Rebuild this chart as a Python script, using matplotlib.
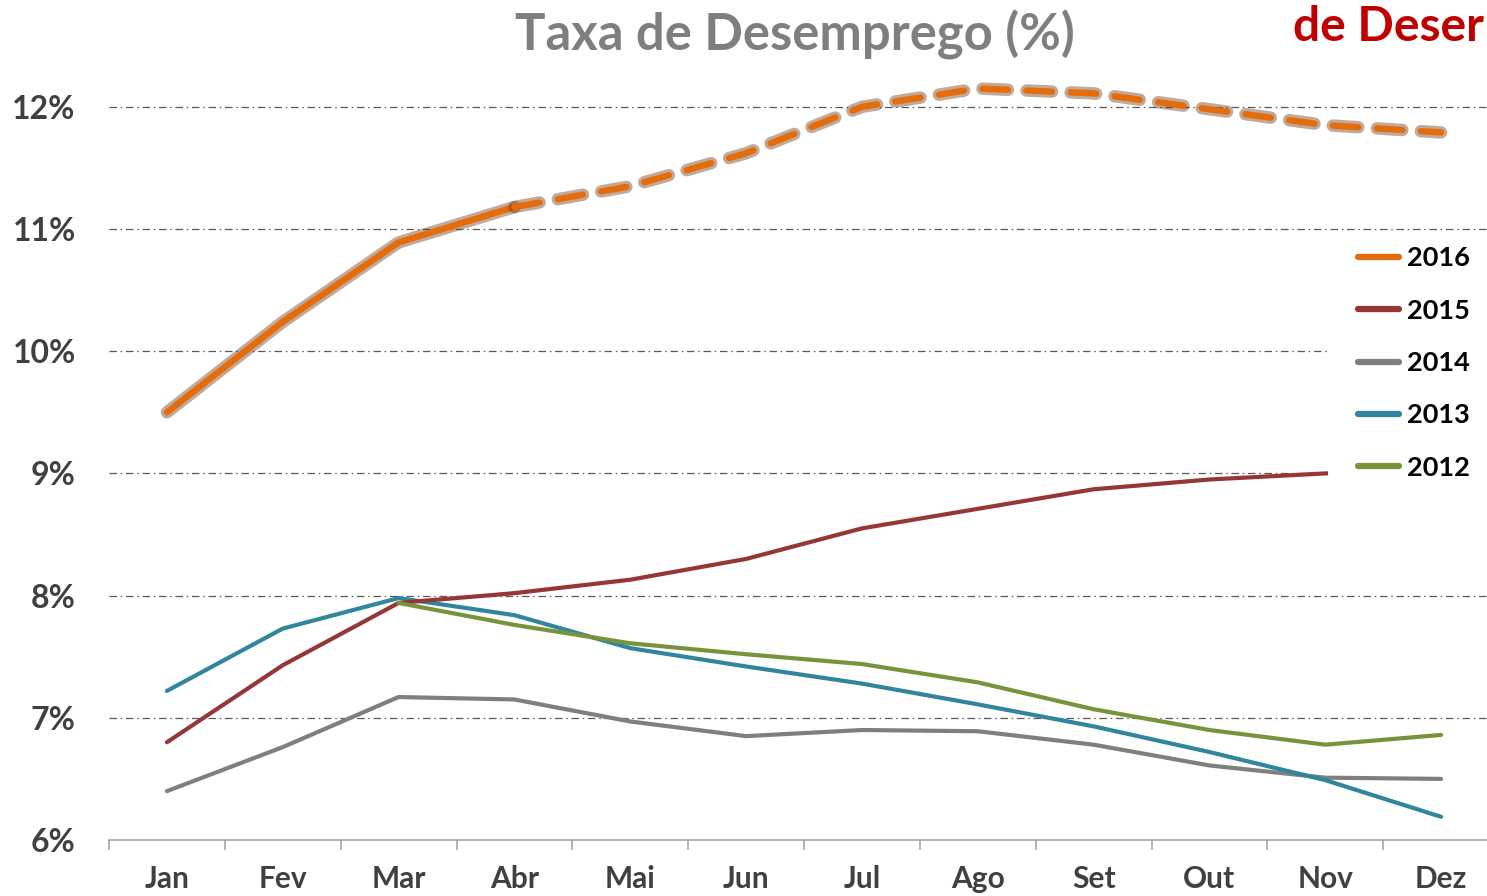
import matplotlib
matplotlib.use("Agg")
import matplotlib.pyplot as plt
import matplotlib.patheffects as pe
from matplotlib.lines import Line2D
from matplotlib.patches import Rectangle
import numpy as np

plt.rcParams['font.family'] = ['Lato', 'DejaVu Sans']

months = ["Jan", "Fev", "Mar", "Abr", "Mai", "Jun", "Jul", "Ago", "Set", "Out", "Nov", "Dez"]
y2016 = [9.5, 10.24, 10.89, 11.18, 11.35, 11.62, 12.0, 12.15, 12.11, 11.98, 11.85, 11.79]
n2016_observed = 4  # Jan..Abr observed, rest projected (dashed)
y2015 = [6.8, 7.43, 7.94, 8.02, 8.13, 8.30, 8.55, 8.71, 8.87, 8.95, 9.0, 9.0]
y2014 = [6.40, 6.76, 7.17, 7.15, 6.97, 6.85, 6.90, 6.89, 6.78, 6.61, 6.51, 6.50]
y2013 = [7.22, 7.73, 7.98, 7.84, 7.57, 7.42, 7.28, 7.11, 6.93, 6.72, 6.49, 6.19]
y2012 = [None, None, 7.94, 7.76, 7.61, 7.52, 7.44, 7.29, 7.07, 6.90, 6.78, 6.86]
yticks = [6, 7, 8, 9, 10, 11, 12]
legend_labels = ["2016", "2015", "2014", "2013", "2012"]

W, H = 1487, 896
fig = plt.figure(figsize=(W / 100, H / 100), dpi=100)
fig.patch.set_facecolor("white")

x0, x1 = 109, 1499
ybot = 840
ppu = 122.2
ytop_val = 12.5
ytop = ybot - (ytop_val - 6) * ppu
ax = fig.add_axes([x0 / W, 1 - ybot / H, (x1 - x0) / W, (ybot - ytop) / H])
ax.set_xlim(-0.5, 11.5)
ax.set_ylim(6, ytop_val)

x = np.arange(len(months))

def arr(v):
    return np.array([np.nan if a is None else a for a in v], dtype=float)

c2016 = "#E46C0A"
c2015 = "#953735"
c2014 = "#7F7F7F"
c2013 = "#31859C"
c2012 = "#77933C"
lw = 3.0

ax.plot(x, arr(y2014), color=c2014, lw=lw, solid_capstyle="round", zorder=3)
ax.plot(x, arr(y2013), color=c2013, lw=lw, solid_capstyle="round", zorder=3.1)
ax.plot(x, arr(y2015), color=c2015, lw=lw, solid_capstyle="round", zorder=3.2)
ax.plot(x, arr(y2012), color=c2012, lw=lw, solid_capstyle="round", zorder=3.3)

glow = [pe.Stroke(linewidth=9, foreground="#6a3512", alpha=0.42), pe.Normal()]
o16 = arr(y2016)
ax.plot(x[:n2016_observed], o16[:n2016_observed], color=c2016, lw=4.6,
        solid_capstyle="round", zorder=4, path_effects=glow)
ax.plot(x[n2016_observed - 1:], o16[n2016_observed - 1:], color=c2016, lw=4.6,
        linestyle=(0, (4.0, 2.9)), dash_capstyle="round", zorder=4, path_effects=glow)

# grid
for v in yticks[1:]:
    ax.axhline(v, color="#595959", lw=0.9, linestyle=(0, (6, 3, 1.2, 3)), zorder=1)

for s in ["top", "right", "left"]:
    ax.spines[s].set_visible(False)
ax.spines["bottom"].set_color("#A6A6A6")
ax.spines["bottom"].set_linewidth(1.2)

ax.set_yticks(yticks)
ax.set_yticklabels([f"{v}%" for v in yticks])
ax.tick_params(axis="y", length=0, pad=24, labelsize=23, labelcolor="#404040")
for t in ax.get_yticklabels():
    t.set_fontweight("bold")

ax.set_xticks(x)
ax.set_xticklabels(months)
ax.set_xticks(np.arange(-0.5, 12, 1.0), minor=True)
ax.tick_params(axis="x", which="major", length=0, pad=18, labelsize=21.5, labelcolor="#404040")
ax.tick_params(axis="x", which="minor", length=7, width=1.2, color="#A6A6A6", direction="out")
for t in ax.get_xticklabels():
    t.set_fontweight("bold")

# legend background (covers gridlines / lines behind the legend)
fig.add_artist(Rectangle((1328 / W, 1 - 492 / H), (W - 1328) / W, (492 - 240) / H,
                         transform=fig.transFigure, facecolor="white", edgecolor="none", zorder=9))
handles = [Line2D([], [], color=c, lw=4.5, solid_capstyle="round") for c in [c2016, c2015, c2014, c2013, c2012]]
leg = fig.legend(handles, legend_labels, loc="upper left", bbox_to_anchor=(1350 / W, 1 - 238 / H),
                 frameon=False, prop={"weight": "bold", "size": 19.5}, labelspacing=1.05,
                 handlelength=1.5, handletextpad=0.3, borderpad=0.3, borderaxespad=0)
for t in leg.get_texts():
    t.set_color("black")
leg.set_zorder(10)

fig.text(795 / W, 1 - 35 / H, "Taxa de Desemprego (%)", ha="center", va="center",
         fontsize=36.5, fontweight="bold", color="#7F7F7F")
fig.text(1293 / W, 1 - 27 / H, "de Deser", ha="left", va="center",
         fontsize=34.5, fontweight="bold", color="#C00000")

fig.savefig("out.png", dpi=100, facecolor="white")
